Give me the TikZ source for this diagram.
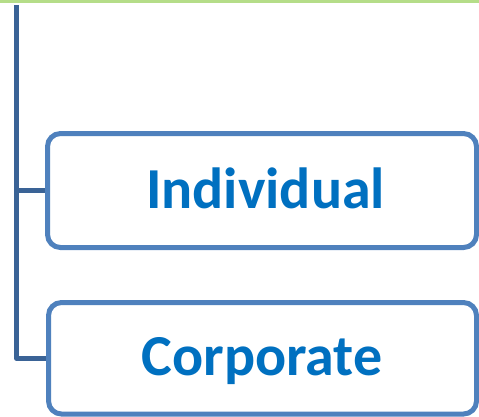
\documentclass[tikz,border=0pt]{standalone}
\usepackage{fontspec}
\setmainfont{Carlito}
\definecolor{barGreen}{RGB}{181,221,137}
\definecolor{trunkBlue}{RGB}{58,99,150}
\definecolor{boxBlue}{RGB}{79,129,189}
\definecolor{labelBlue}{RGB}{0,112,192}
\tikzset{
  itembox/.style={draw=boxBlue, line width=5pt, rounded corners=13pt, fill=white,
    inner sep=0pt, rectangle},
  itemlabel/.style={text=labelBlue, font=\fontsize{58}{60}\selectfont\bfseries,
    inner sep=0pt, anchor=base},
  branch/.style={draw=trunkBlue, line width=5pt, line join=round},
}
\begin{document}
\begin{tikzpicture}[x=1pt, y=-1pt]
  \useasboundingbox (0,0) rectangle (479,416);
  % header rule
  \fill[barGreen] (0,0) rectangle (479,3);
  % boxes
  \node[itembox, minimum width=429pt, minimum height=114pt] (indiv) at (262,190.5) {};
  \node[itembox, minimum width=428pt, minimum height=111.5pt] (corp) at (262.5,358.25) {};
  % labels
  \node[itemlabel] (indivtext) at (265.5,208) {Individual};
  \node[itemlabel] (corptext) at (262,375) {Corporate};
  % tree connector
  \coordinate (trunk) at (16.5,5);
  \draw[branch] (trunk) |- (corp.west);
  \draw[branch] (trunk |- indiv.west) -- (indiv.west);
\end{tikzpicture}
\end{document}
